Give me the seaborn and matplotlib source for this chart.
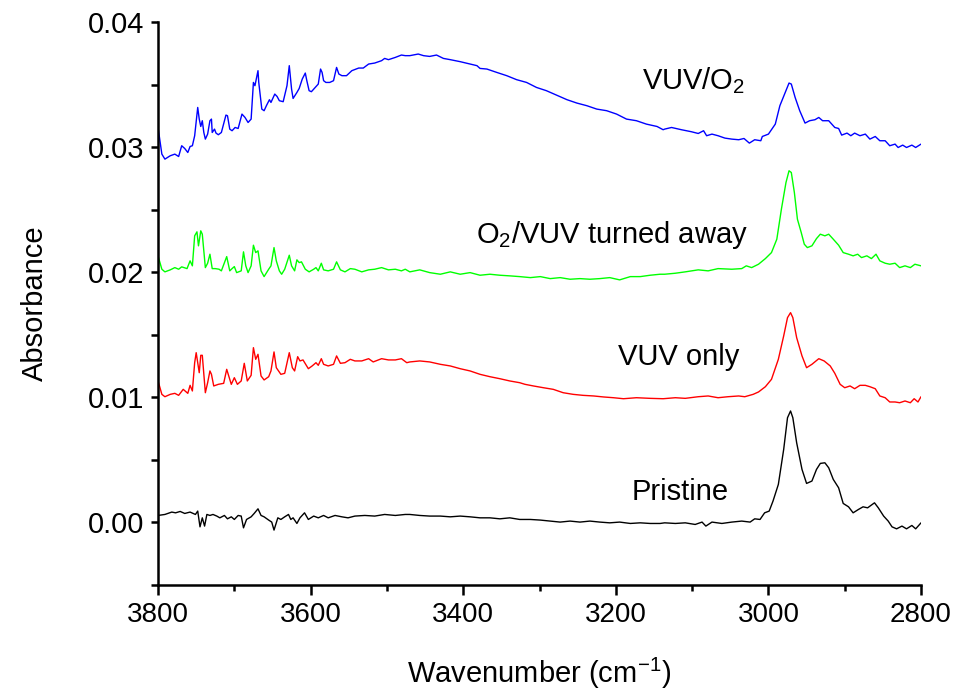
import numpy as np
import pandas as pd
import matplotlib
matplotlib.use("Agg")
import matplotlib.pyplot as plt
from matplotlib.ticker import MultipleLocator, FormatStrFormatter
import seaborn as sns

# ---------------- data ----------------
blue_x = [3800, 3795, 3791, 3784, 3778, 3773, 3769, 3765, 3761, 3758, 3755, 3752, 3748, 3746, 3744, 3742,
          3740, 3738, 3735, 3732, 3730, 3729, 3726, 3724, 3721, 3717, 3711, 3709, 3706, 3703, 3699, 3695,
          3690, 3686, 3682, 3678, 3675, 3673, 3669, 3668, 3664, 3661, 3658, 3654, 3652, 3647, 3644, 3641,
          3636, 3631, 3628, 3625, 3623, 3618, 3615, 3611, 3607, 3605, 3602, 3599, 3594, 3590, 3587, 3585,
          3583, 3580, 3575, 3570, 3566, 3563, 3559, 3553, 3546, 3537, 3531, 3524, 3516, 3507, 3503, 3498,
          3489, 3481, 3476, 3470, 3459, 3452, 3444, 3435, 3426, 3417, 3404, 3391, 3382, 3378, 3369, 3356,
          3343, 3330, 3317, 3304, 3291, 3278, 3264, 3251, 3238, 3225, 3212, 3199, 3186, 3173, 3160, 3146,
          3138, 3136, 3127, 3114, 3101, 3092, 3085, 3081, 3074, 3066, 3057, 3048, 3039, 3032, 3025, 3018,
          3010, 3008, 3000, 2991, 2985, 2978, 2973, 2970, 2965, 2959, 2952, 2946, 2939, 2934, 2929, 2921,
          2913, 2908, 2904, 2897, 2892, 2887, 2880, 2873, 2867, 2860, 2854, 2847, 2841, 2834, 2830, 2824,
          2819, 2812, 2807, 2800]
blue_y = [0.03157, 0.02944, 0.02904, 0.02931, 0.02944, 0.02925, 0.03011, 0.02989, 0.02957, 0.03005, 0.03011,
          0.03091, 0.03317, 0.03224, 0.03165, 0.03211, 0.03117, 0.03064, 0.03104, 0.03211, 0.03224, 0.03117,
          0.03144, 0.03112, 0.03099, 0.03117, 0.03256, 0.03251, 0.03144, 0.03131, 0.03157, 0.03149, 0.03264,
          0.03237, 0.03197, 0.03224, 0.03517, 0.03491, 0.03611, 0.03517, 0.03304, 0.03291, 0.03331, 0.03379,
          0.03357, 0.03424, 0.03405, 0.03371, 0.03363, 0.03491, 0.03651, 0.03464, 0.03389, 0.03437, 0.03469,
          0.03544, 0.03592, 0.03531, 0.03451, 0.03443, 0.03477, 0.03504, 0.03624, 0.03597, 0.03531, 0.03517,
          0.03517, 0.03531, 0.03637, 0.03584, 0.03571, 0.03571, 0.03611, 0.03632, 0.03632, 0.03664, 0.03672,
          0.03691, 0.03709, 0.03699, 0.03717, 0.03736, 0.03731, 0.03731, 0.03744, 0.03731, 0.03725, 0.03736,
          0.03709, 0.03699, 0.03683, 0.03664, 0.03651, 0.03629, 0.03624, 0.03597, 0.03571, 0.03539, 0.03517,
          0.03477, 0.03451, 0.03416, 0.03379, 0.03352, 0.03331, 0.03304, 0.03291, 0.03264, 0.03224, 0.03211,
          0.03184, 0.03165, 0.03139, 0.03144, 0.03157, 0.03139, 0.03123, 0.03109, 0.03131, 0.03091, 0.03104,
          0.03091, 0.03072, 0.03064, 0.03059, 0.03069, 0.03032, 0.03059, 0.03051, 0.03085, 0.03104, 0.03184,
          0.03331, 0.03437, 0.03512, 0.03504, 0.03397, 0.03291, 0.03192, 0.03211, 0.03219, 0.03237, 0.03211,
          0.03211, 0.03157, 0.03149, 0.03096, 0.03112, 0.03091, 0.03112, 0.03091, 0.03104, 0.03064, 0.03085,
          0.03051, 0.03051, 0.03011, 0.03024, 0.02997, 0.03016, 0.02997, 0.03016, 0.02997, 0.03024]

green_x = [3800, 3795, 3791, 3784, 3778, 3773, 3769, 3762, 3758, 3755, 3752, 3749, 3747, 3744, 3742, 3738,
           3735, 3732, 3729, 3725, 3720, 3717, 3710, 3706, 3703, 3700, 3697, 3691, 3688, 3685, 3682, 3678,
           3675, 3672, 3669, 3665, 3661, 3655, 3652, 3648, 3645, 3641, 3638, 3634, 3628, 3625, 3621, 3618,
           3615, 3612, 3607, 3602, 3596, 3593, 3590, 3586, 3583, 3577, 3570, 3566, 3561, 3555, 3548, 3542,
           3533, 3524, 3516, 3507, 3498, 3489, 3481, 3476, 3470, 3457, 3444, 3430, 3417, 3404, 3391, 3378,
           3365, 3352, 3339, 3326, 3312, 3299, 3286, 3273, 3260, 3247, 3234, 3221, 3208, 3195, 3181, 3168,
           3155, 3142, 3136, 3122, 3109, 3092, 3079, 3066, 3048, 3035, 3029, 3022, 3013, 3004, 2996, 2989,
           2983, 2977, 2973, 2970, 2966, 2962, 2957, 2953, 2949, 2943, 2937, 2932, 2926, 2921, 2915, 2908,
           2902, 2895, 2889, 2883, 2878, 2871, 2865, 2859, 2854, 2847, 2841, 2834, 2828, 2821, 2814, 2808,
           2800]
green_y = [0.02130, 0.02024, 0.02003, 0.02019, 0.02037, 0.02024, 0.02043, 0.02029, 0.02091, 0.02051, 0.02291,
           0.02323, 0.02211, 0.02331, 0.02304, 0.02037, 0.02072, 0.02144, 0.02029, 0.02029, 0.02024, 0.02011,
           0.02125, 0.02011, 0.02029, 0.02045, 0.01997, 0.02011, 0.02163, 0.02051, 0.01997, 0.02051, 0.02216,
           0.02157, 0.02171, 0.02011, 0.01965, 0.02024, 0.02051, 0.02197, 0.02091, 0.02011, 0.01984, 0.02024,
           0.02136, 0.02051, 0.02011, 0.02099, 0.02077, 0.02083, 0.02024, 0.02003, 0.02024, 0.02037, 0.02011,
           0.02072, 0.02019, 0.02011, 0.02024, 0.02083, 0.02019, 0.02003, 0.02029, 0.02024, 0.02003, 0.02019,
           0.02024, 0.02037, 0.02019, 0.02024, 0.02011, 0.02024, 0.02003, 0.02019, 0.01997, 0.01984, 0.02003,
           0.01984, 0.01997, 0.01976, 0.01984, 0.01976, 0.01971, 0.01965, 0.01957, 0.01965, 0.01949, 0.01957,
           0.01944, 0.01949, 0.01944, 0.01949, 0.01957, 0.01939, 0.01965, 0.01965, 0.01976, 0.01984, 0.01984,
           0.01992, 0.02003, 0.02019, 0.02011, 0.02029, 0.02024, 0.02029, 0.02051, 0.02037, 0.02064, 0.02109,
           0.02157, 0.02264, 0.02504, 0.02717, 0.02811, 0.02797, 0.02637, 0.02424, 0.02317, 0.02224, 0.02197,
           0.02211, 0.02269, 0.02304, 0.02291, 0.02304, 0.02264, 0.02216, 0.02157, 0.02144, 0.02131, 0.02144,
           0.02117, 0.02131, 0.02109, 0.02144, 0.02091, 0.02072, 0.02064, 0.02072, 0.02037, 0.02051, 0.02037,
           0.02064, 0.02051]

red_x = [3800, 3795, 3791, 3784, 3778, 3773, 3767, 3761, 3758, 3755, 3752, 3750, 3746, 3744, 3742, 3738,
         3735, 3732, 3730, 3727, 3721, 3714, 3710, 3708, 3704, 3700, 3696, 3691, 3687, 3683, 3678, 3675,
         3672, 3669, 3665, 3661, 3655, 3652, 3648, 3645, 3639, 3634, 3628, 3624, 3621, 3617, 3614, 3610,
         3603, 3598, 3593, 3590, 3586, 3583, 3577, 3570, 3566, 3561, 3555, 3548, 3542, 3533, 3524, 3518,
         3507, 3498, 3489, 3481, 3474, 3470, 3457, 3444, 3430, 3417, 3404, 3391, 3378, 3365, 3352, 3339,
         3326, 3319, 3308, 3295, 3282, 3269, 3256, 3243, 3229, 3216, 3203, 3190, 3173, 3155, 3138, 3122,
         3109, 3092, 3079, 3066, 3053, 3039, 3031, 3020, 3013, 3004, 2996, 2987, 2980, 2975, 2971, 2968,
         2963, 2956, 2950, 2943, 2934, 2927, 2919, 2913, 2906, 2900, 2893, 2887, 2880, 2873, 2867, 2860,
         2854, 2847, 2841, 2834, 2828, 2821, 2814, 2809, 2804, 2800]
red_y = [0.01131, 0.01024, 0.01005, 0.01024, 0.01032, 0.01016, 0.01064, 0.01032, 0.01096, 0.01051, 0.01277,
         0.01357, 0.01197, 0.01336, 0.01336, 0.01037, 0.01117, 0.01211, 0.01184, 0.01091, 0.01104, 0.01112,
         0.01224, 0.01184, 0.01104, 0.01157, 0.01104, 0.01131, 0.01272, 0.01131, 0.01176, 0.01397, 0.01304,
         0.01344, 0.01171, 0.01139, 0.01165, 0.01211, 0.01363, 0.01237, 0.01184, 0.01192, 0.01357, 0.01237,
         0.01211, 0.01325, 0.01291, 0.01299, 0.01229, 0.01251, 0.01277, 0.01256, 0.01309, 0.01264, 0.01251,
         0.01264, 0.01331, 0.01272, 0.01277, 0.01304, 0.01291, 0.01291, 0.01309, 0.01283, 0.01309, 0.01299,
         0.01299, 0.01309, 0.01277, 0.01283, 0.01291, 0.01283, 0.01264, 0.01251, 0.01229, 0.01211, 0.01184,
         0.01165, 0.01149, 0.01131, 0.01117, 0.01104, 0.01091, 0.01077, 0.01064, 0.01037, 0.01024, 0.01016,
         0.01011, 0.01003, 0.00997, 0.00989, 0.00997, 0.00992, 0.00989, 0.00997, 0.00992, 0.01005, 0.01011,
         0.00997, 0.01005, 0.01011, 0.01005, 0.01024, 0.01043, 0.01085, 0.01144, 0.01304, 0.01491, 0.01637,
         0.01677, 0.01637, 0.01477, 0.01331, 0.01237, 0.01264, 0.01309, 0.01291, 0.01251, 0.01192, 0.01104,
         0.01077, 0.01091, 0.01069, 0.01096, 0.01096, 0.01085, 0.01069, 0.01011, 0.00997, 0.00963, 0.00963,
         0.00957, 0.00971, 0.00957, 0.00989, 0.00963, 0.01005]

black_x = [3800, 3791, 3782, 3777, 3771, 3765, 3758, 3754, 3751, 3748, 3745, 3742, 3739, 3736, 3732, 3728,
           3723, 3719, 3713, 3709, 3704, 3700, 3695, 3691, 3688, 3684, 3678, 3674, 3669, 3665, 3661, 3655,
           3651, 3648, 3643, 3639, 3634, 3629, 3626, 3623, 3618, 3614, 3608, 3603, 3596, 3590, 3583, 3577,
           3568, 3559, 3551, 3542, 3529, 3516, 3503, 3489, 3476, 3470, 3457, 3444, 3430, 3417, 3404, 3391,
           3378, 3365, 3352, 3339, 3326, 3312, 3299, 3286, 3273, 3260, 3247, 3234, 3221, 3208, 3195, 3181,
           3168, 3155, 3142, 3136, 3122, 3109, 3096, 3087, 3082, 3074, 3061, 3048, 3035, 3024, 3018, 3011,
           3005, 2999, 2994, 2987, 2980, 2975, 2971, 2968, 2963, 2956, 2950, 2943, 2937, 2932, 2926, 2921,
           2915, 2908, 2902, 2895, 2889, 2882, 2876, 2870, 2861, 2856, 2849, 2843, 2838, 2832, 2825, 2819,
           2812, 2807, 2800]
black_y = [0.00056, 0.00064, 0.00083, 0.00077, 0.00088, 0.00072, 0.00083, 0.00072, 0.00064, 0.00091, -0.00035,
           0.00037, -0.00029, 0.00064, 0.00056, 0.00064, 0.00051, 0.00037, 0.00056, 0.00029, 0.00045, 0.00024,
           0.00056, 0.00051, -0.00043, 0.00024, 0.00045, 0.00072, 0.00109, 0.00056, 0.00045, 0.00019, 0.00003,
           -0.00061, 0.00037, 0.00024, 0.00045, 0.00064, 0.00024, 0.00037, -0.00008, 0.00037, 0.00077, 0.00024,
           0.00051, 0.00037, 0.00056, 0.00037, 0.00056, 0.00045, 0.00037, 0.00051, 0.00056, 0.00051, 0.00064,
           0.00056, 0.00064, 0.00064, 0.00056, 0.00051, 0.00051, 0.00045, 0.00051, 0.00045, 0.00037, 0.00037,
           0.00029, 0.00037, 0.00024, 0.00024, 0.00019, 0.00011, 0.00003, 0.00011, 0.00003, 0.00011, 0.00003,
           -0.00003, 0.00003, -0.00008, -0.00003, -0.00008, -0.00008, -0.00003, -0.00008, -0.00003, -0.00016,
           0.00003, -0.00029, 0.00003, -0.00008, 0.00003, 0.00011, 0.00003, 0.00029, 0.00024, 0.00077, 0.00091,
           0.00171, 0.00304, 0.00584, 0.00837, 0.00891, 0.00837, 0.00637, 0.00424, 0.00312, 0.00331, 0.00424,
           0.00472, 0.00477, 0.00437, 0.00344, 0.00277, 0.00152, 0.00125, 0.00077, 0.00104, 0.00125, 0.00117,
           0.00157, 0.00117, 0.00051, 0.00011, -0.00035, -0.00051, -0.00029, -0.00051, -0.00024, -0.00051,
           -0.00003]

series_names = ["VUV/O$_\\mathregular{2}$", "O$_\\mathregular{2}$/VUV turned away", "VUV only", "Pristine"]
series_colors = ["#0000FF", "#00FF00", "#FF0000", "#000000"]
label_x = [3166, 3383, 3197, 3179]
label_y = [0.0346, 0.0223, 0.0126, 0.0018]

x_ticks = [3800, 3600, 3400, 3200, 3000, 2800]
y_ticks = [0.00, 0.01, 0.02, 0.03, 0.04]

# ---------------- style ----------------
sns.set_style("ticks")
plt.rcParams["font.family"] = ["Liberation Sans", "DejaVu Sans"]
plt.rcParams["mathtext.fontset"] = "custom"
plt.rcParams["mathtext.rm"] = "Liberation Sans"
plt.rcParams["mathtext.it"] = "Liberation Sans:italic"
plt.rcParams["mathtext.bf"] = "Liberation Sans:bold"
plt.rcParams["text.color"] = "black"
plt.rcParams["axes.labelcolor"] = "black"
plt.rcParams["xtick.color"] = "black"
plt.rcParams["ytick.color"] = "black"

fig = plt.figure(figsize=(9.59, 6.92), dpi=100)
ax = fig.add_axes([0.1648, 0.1546, 0.7956, 0.8136])

xs = [blue_x, green_x, red_x, black_x]
ys = [blue_y, green_y, red_y, black_y]
for sx, sy, col in zip(xs, ys, series_colors):
    df = pd.DataFrame({"x": sx, "y": sy})
    sns.lineplot(data=df, x="x", y="y", color=col, linewidth=1.0,
                 estimator=None, sort=False, ax=ax)

for name, lx, ly in zip(series_names, label_x, label_y):
    ax.text(lx, ly, name, fontsize=21, ha="left", va="baseline", color="black")

ax.set_xlim(3800, 2800)
ax.set_ylim(-0.005, 0.04)
ax.set_xticks(x_ticks)
ax.xaxis.set_minor_locator(MultipleLocator(100))
ax.set_yticks(y_ticks)
ax.yaxis.set_minor_locator(MultipleLocator(0.005))
ax.yaxis.set_major_formatter(FormatStrFormatter("%.2f"))

for side in ["top", "right"]:
    ax.spines[side].set_visible(False)
for side in ["left", "bottom"]:
    ax.spines[side].set_linewidth(1.8)
    ax.spines[side].set_color("black")

ax.tick_params(axis="x", which="major", direction="out", length=7, width=1.8, labelsize=20, pad=5, colors="black")
ax.tick_params(axis="x", which="minor", direction="out", length=4.5, width=1.8)
ax.tick_params(axis="y", which="both", direction="out", length=5, width=1.8, labelsize=21, pad=5, colors="black")

ax.set_xlabel("Wavenumber (cm$^{\\mathregular{-1}}$)", fontsize=21, labelpad=20, color="black")
ax.set_ylabel("Absorbance", fontsize=21, labelpad=28, color="black")

fig.savefig("out.png", dpi=100)
